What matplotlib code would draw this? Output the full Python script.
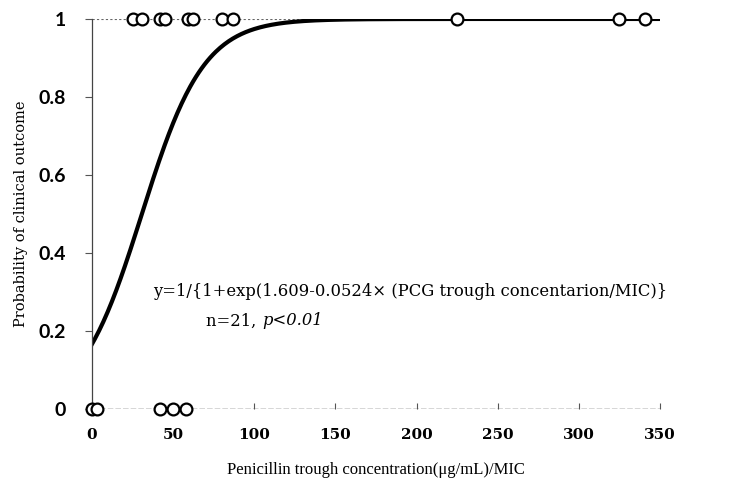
import numpy as np
import matplotlib
matplotlib.use("Agg")
import matplotlib.pyplot as plt

# observed outcomes (PCG trough / MIC)
success_x = [25, 31, 42, 45, 59, 62, 80, 87, 225, 325, 341]
failure_x = [0, 3, 42, 50, 58]
# logistic fit coefficients shown on the chart
b0 = 1.609
b1 = 0.0524
x_ticks = [0, 50, 100, 150, 200, 250, 300, 350]
y_ticks = [0, 0.2, 0.4, 0.6, 0.8, 1]
y_tick_labels = ["0", "0.2", "0.4", "0.6", "0.8", "1"]

fig = plt.figure(figsize=(7.38, 4.86), dpi=100)
ax = fig.add_axes([0.1247, 0.1584, 0.7696, 0.8026])

xs = np.linspace(0, 350, 400)
ax.plot(xs, 1 / (1 + np.exp(b0 - b1 * xs)), color="black", lw=3, zorder=2)

ax.axhline(1, color="#666666", lw=0.8, ls=(0, (2, 2)), zorder=1)
ax.axhline(0, color="#333333", lw=1.0, ls=(0, (4, 1.5)), zorder=1)

mk = dict(marker="o", ls="none", ms=8.5, mfc="white", mec="black", mew=1.6,
          clip_on=False, zorder=3)
ax.plot(success_x, [1] * len(success_x), **mk)
ax.plot(failure_x, [0] * len(failure_x), **mk)

ax.set_xlim(0, 350)
ax.set_ylim(0, 1)
for s in ["top", "right", "bottom"]:
    ax.spines[s].set_visible(False)
ax.spines["left"].set_color("#444444")
ax.spines["left"].set_linewidth(0.9)

ax.set_xticks(x_ticks)
ax.set_xticklabels([str(v) for v in x_ticks], family="DejaVu Serif", fontweight="bold",
                   fontsize=11)
ax.set_yticks(y_ticks)
ax.set_yticklabels(y_tick_labels, family="Lato", fontweight="bold", fontsize=14)
ax.tick_params(axis="x", direction="in", length=4, width=0.8, color="#555555", pad=14)
ax.tick_params(axis="y", direction="out", length=5, width=0.8, color="#555555", pad=14)

ax.set_xlabel("Penicillin trough concentration(\u03bcg/mL)/MIC", family="Liberation Serif",
              fontsize=12, labelpad=14)
ax.set_ylabel("Probability of clinical outcome", family="DejaVu Serif", fontsize=10.5,
              labelpad=7)

ax.text(37.5, 0.30, "y=1/{1+exp(1.609-0.0524\u00d7 (PCG trough concentarion/MIC)}",
        family="DejaVu Serif", fontsize=11.8, va="center", ha="left")
t1 = ax.text(70.5, 0.226, "n=21, ", family="DejaVu Serif", fontsize=11.8,
             va="center", ha="left")
ax.annotate("p<0.01", xy=(1, 0.5), xycoords=t1, va="center", ha="left",
            family="DejaVu Serif", style="italic", fontsize=11.8)

fig.savefig("out.png", dpi=100)
